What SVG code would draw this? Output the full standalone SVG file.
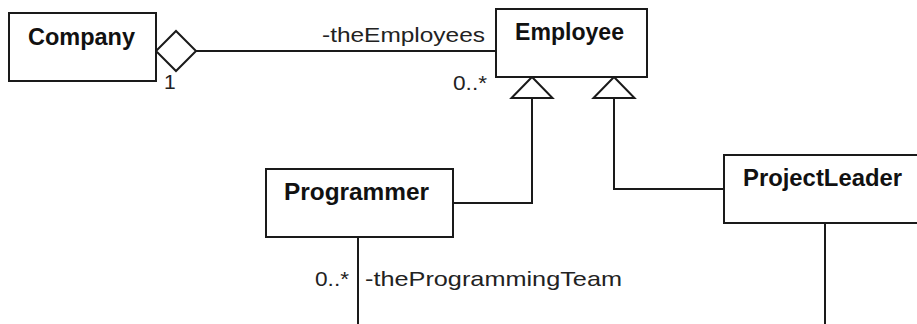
<svg xmlns="http://www.w3.org/2000/svg" width="917" height="324" viewBox="0 0 917 324">
<style>
.box{fill:#fff;stroke:#1a1a1a;stroke-width:2}
.name{font-family:"Liberation Sans",Arial,sans-serif;font-weight:bold;font-size:23px;fill:#111}
.lbl{font-family:"Liberation Sans",Arial,sans-serif;font-size:21px;fill:#222}
.conn{fill:none;stroke:#1a1a1a;stroke-width:2}
</style>
<defs>
<marker id="diamond" markerUnits="userSpaceOnUse" markerWidth="44" markerHeight="44" viewBox="-2 -2 44 44" refX="40" refY="20" orient="auto" overflow="visible">
<path d="M0,20 L20,0 L40,20 L20,40 Z" fill="#fff" stroke="#1a1a1a" stroke-width="2"/>
</marker>
<marker id="tri" markerUnits="userSpaceOnUse" markerWidth="25" markerHeight="45" viewBox="-2 -2 25 45" refX="21" refY="20.5" orient="auto" overflow="visible">
<path d="M0,0 L21,20.5 L0,41 Z" fill="#fff" stroke="#1a1a1a" stroke-width="2"/>
</marker>
</defs>
<rect width="917" height="324" fill="#fff"/>
<g id="connectors">
<path class="conn" d="M496,51 H156" marker-end="url(#diamond)"/>
<path class="conn" d="M453,203 H532 V77" marker-end="url(#tri)"/>
<path class="conn" d="M724,189 H614 V77" marker-end="url(#tri)"/>
<path class="conn" d="M358,237 V324"/>
<path class="conn" d="M825,223 V324"/>
<text class="lbl" x="322" y="42" textLength="163" lengthAdjust="spacingAndGlyphs">-theEmployees</text>
<text class="lbl" x="453" y="90" textLength="34" lengthAdjust="spacingAndGlyphs">0..*</text>
<text class="lbl" x="164" y="89">1</text>
<text class="lbl" x="315" y="286" textLength="34" lengthAdjust="spacingAndGlyphs">0..*</text>
<text class="lbl" x="365" y="286" textLength="257" lengthAdjust="spacingAndGlyphs">-theProgrammingTeam</text>
</g>
<g id="company">
<rect class="box" x="9" y="13" width="147" height="68"/>
<text class="name" x="28" y="45" textLength="107" lengthAdjust="spacingAndGlyphs">Company</text>
</g>
<g id="employee">
<rect class="box" x="496" y="9" width="151" height="68"/>
<text class="name" x="515" y="40" textLength="109" lengthAdjust="spacingAndGlyphs">Employee</text>
</g>
<g id="programmer">
<rect class="box" x="266" y="169" width="187" height="68"/>
<text class="name" x="284" y="200" textLength="145" lengthAdjust="spacingAndGlyphs">Programmer</text>
</g>
<g id="projectleader">
<rect class="box" x="724" y="155" width="210" height="68"/>
<text class="name" x="743" y="186" textLength="159" lengthAdjust="spacingAndGlyphs">ProjectLeader</text>
</g>
</svg>
